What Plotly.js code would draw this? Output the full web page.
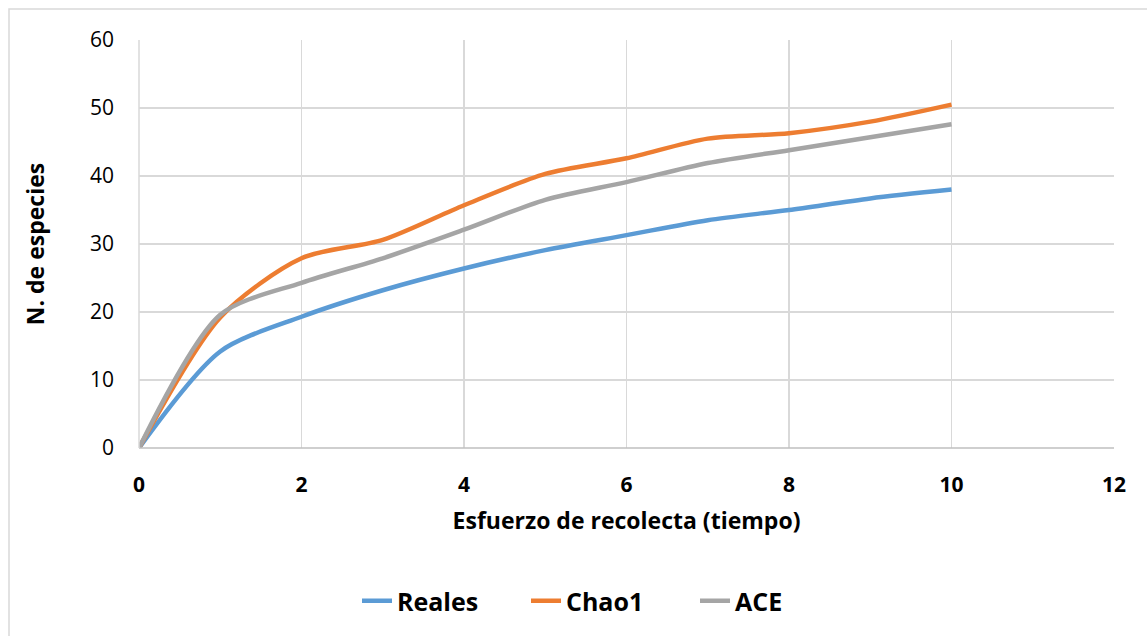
<!DOCTYPE html>
<html>
<head>
<meta charset="utf-8">
<script src="https://cdn.plot.ly/plotly-3.0.1.min.js"></script>
<style>html,body{margin:0;padding:0;background:#fff;}#chart{width:1147px;height:636px;}</style>
</head>
<body>
<div id="chart"></div>
<script>
var esfuerzo = [0, 1, 2, 3, 4, 5, 6, 7, 8, 9, 10];
var reales = [0, 14.2, 19.3, 23.2, 26.4, 29.1, 31.3, 33.5, 35.0, 36.7, 38.0];
var chao1 = [0, 19.2, 27.9, 30.6, 35.7, 40.3, 42.6, 45.5, 46.3, 48.0, 50.5];
var ace = [0, 19.6, 24.3, 27.9, 32.1, 36.5, 39.1, 41.9, 43.8, 45.7, 47.6];
var seriesNames = ["Reales", "Chao1", "ACE"];
var colors = ["#5b9bd5", "#ed7d31", "#a5a5a5"];
var xTicks = [0, 2, 4, 6, 8, 10, 12];
var yTicks = [0, 10, 20, 30, 40, 50, 60];

var font = "Open Sans, Liberation Sans, sans-serif";
var values = [reales, chao1, ace];
var traces = values.map(function (v, i) {
  return {
    x: esfuerzo, y: v, name: "<b>" + seriesNames[i] + "</b>", type: "scatter", mode: "lines",
    line: {color: colors[i], width: 4.5, shape: "spline", smoothing: 0.8}
  };
});

var layout = {
  width: 1147, height: 636,
  margin: {l: 139, r: 33, t: 40, b: 188},
  paper_bgcolor: "#ffffff", plot_bgcolor: "#ffffff",
  showlegend: true,
  legend: {
    orientation: "h", x: (357 - 139) / 975, xanchor: "left", y: -0.375, yanchor: "middle",
    font: {family: font, size: 25, color: "#000"},
    traceorder: "normal", itemwidth: 30, entrywidth: 124, entrywidthmode: "pixels"
  },
  xaxis: {
    range: [0, 12], tickvals: xTicks, ticktext: xTicks.map(function (t) { return "<b>" + t + "</b>"; }),
    showgrid: true, gridcolor: "#d9d9d9", gridwidth: 1.5, zeroline: false,
    showline: false, ticks: "", ticklabelstandoff: 22, tickfont: {family: font, size: 21, color: "#000"},
    title: {text: "<b>Esfuerzo de recolecta (tiempo)</b>", font: {family: font, size: 23, color: "#000"}, standoff: 15}
  },
  yaxis: {
    range: [0, 60], tickvals: yTicks,
    showgrid: true, gridcolor: "#d9d9d9", gridwidth: 1.5, zeroline: false,
    showline: false, ticks: "", ticklabelstandoff: 24, tickfont: {family: font, size: 21, color: "#000"},
    title: {text: "<b>N. de especies</b>", font: {family: font, size: 23, color: "#000"}, standoff: 38}
  },
  shapes: [
    {type: "line", xref: "paper", yref: "paper", x0: 0, x1: 1, y0: 0, y1: 0, line: {color: "#bfbfbf", width: 1.5}},
    {type: "line", xref: "paper", yref: "paper", x0: 0, x1: 0, y0: 0, y1: 1, line: {color: "#d9d9d9", width: 1.5}},
    {type: "rect", xref: "paper", yref: "paper",
      x0: (9 - 139) / 975, x1: (1160 - 139) / 975, y0: (448 - 650) / 408, y1: (448 - 9) / 408,
      line: {color: "#d9d9d9", width: 1.5}, fillcolor: "rgba(0,0,0,0)", layer: "below"}
  ]
};

Plotly.newPlot("chart", traces, layout, {displayModeBar: false, staticPlot: true});
</script>
</body>
</html>
